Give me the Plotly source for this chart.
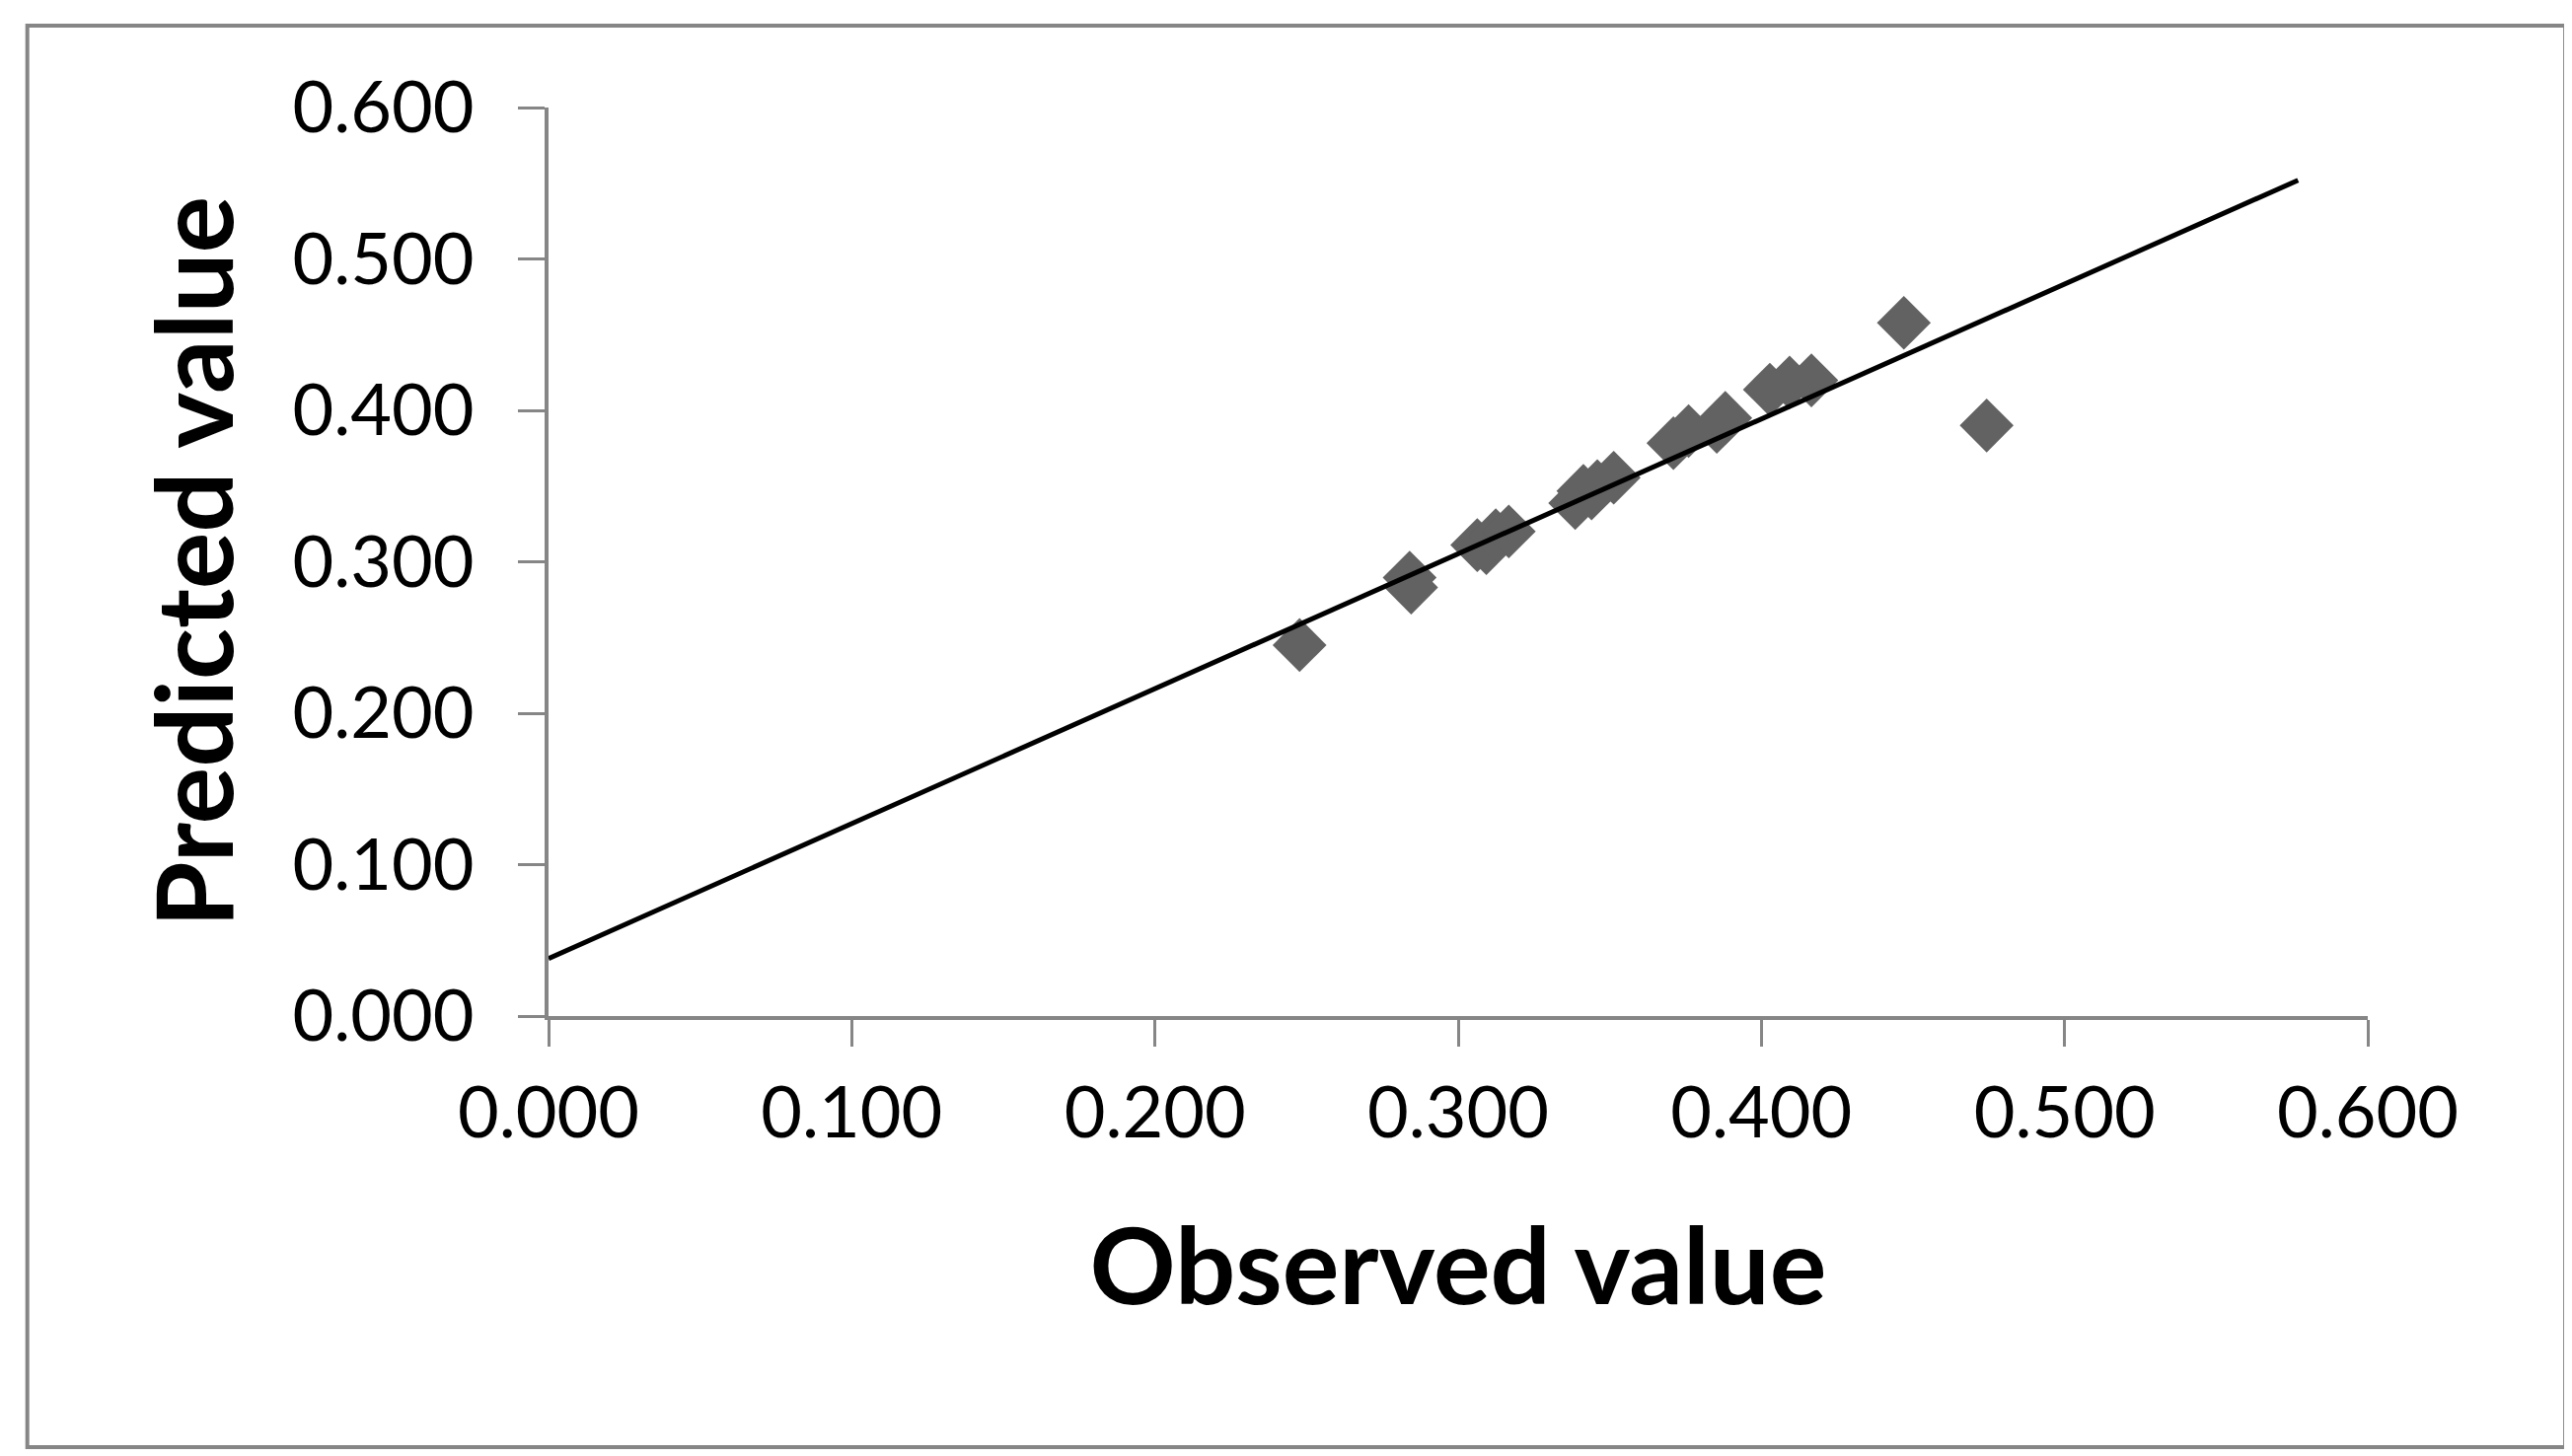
import plotly.graph_objects as go

observed = [0.2477, 0.2840, 0.2845, 0.3063, 0.3093, 0.3124, 0.3167,
            0.3386, 0.3413, 0.3440, 0.3459, 0.3513,
            0.3710, 0.3760, 0.3853, 0.3881,
            0.4028, 0.4093, 0.4165, 0.4470, 0.4743]
predicted = [0.2450, 0.2895, 0.2830, 0.3110, 0.3090, 0.3175, 0.3200,
             0.3388, 0.3468, 0.3451, 0.3500, 0.3555,
             0.3783, 0.3863, 0.3891, 0.3950,
             0.4137, 0.4184, 0.4198, 0.4578, 0.3900]

trend_x = [0.0, 0.577]
trend_y = [0.038, 0.552]

tick_vals = [0.0, 0.1, 0.2, 0.3, 0.4, 0.5, 0.6]
tick_text = ["0.000", "0.100", "0.200", "0.300", "0.400", "0.500", "0.600"]

FONT = "Lato"
GRAY = "#868686"

fig = go.Figure()
fig.add_trace(go.Scatter(
    x=observed, y=predicted, mode="markers",
    marker=dict(symbol="diamond", size=42, color="#626262", line=dict(width=0)),
    showlegend=False, hoverinfo="x+y"))
fig.add_trace(go.Scatter(
    x=trend_x, y=trend_y, mode="lines",
    line=dict(color="black", width=5), showlegend=False))

axis_common = dict(
    range=[0, 0.6], tickvals=tick_vals, ticktext=tick_text,
    showgrid=False, zeroline=False, showline=True, linecolor=GRAY, linewidth=4,
    ticks="outside", ticklen=27, tickwidth=3, tickcolor=GRAY,
    tickfont=dict(family=FONT, size=72, color="black"),
)

fig.update_layout(
    width=2607, height=1476,
    margin=dict(l=548, r=215, t=101, b=454),
    paper_bgcolor="white", plot_bgcolor="white",
    xaxis=dict(**axis_common, ticklabelstandoff=6,
               title=dict(text="<b>Observed value</b>", standoff=80,
                          font=dict(family=FONT, size=108, color="black"))),
    yaxis=dict(**axis_common, ticklabelstandoff=30,
               title=dict(text="<b>Predicted value</b>", standoff=25,
                          font=dict(family=FONT, size=108, color="black"))),
    shapes=[dict(type="rect", xref="paper", yref="paper",
                 x0=-0.2865, x1=1.1085, y0=-0.4745, y1=1.0901,
                 line=dict(color=GRAY, width=4), layer="below")],
)

fig.write_html("out.html")
